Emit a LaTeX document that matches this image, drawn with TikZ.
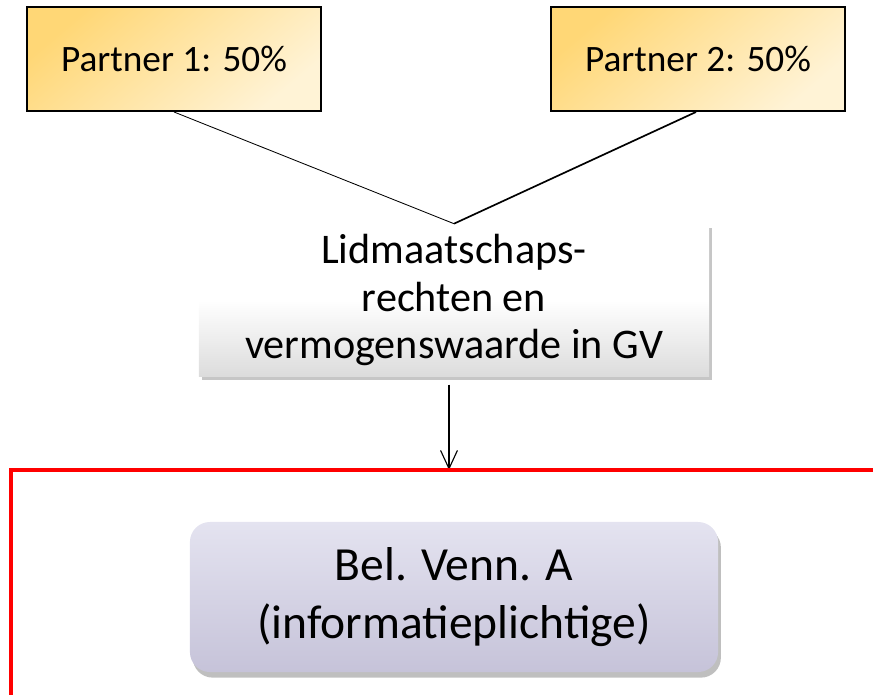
\documentclass[tikz,border=0pt]{standalone}
\usepackage{fontspec}
\setmainfont{Carlito}
\usepackage{tikz}
\usetikzlibrary{shadows,arrows.meta}
\definecolor{partnerdark}{HTML}{FFD776}
\definecolor{partnerlight}{HTML}{FFF3D6}
\definecolor{gvgray}{HTML}{DCDCDC}
\definecolor{bvtop}{HTML}{E4E3F0}
\definecolor{bvbottom}{HTML}{C6C3D9}
\definecolor{framered}{HTML}{FF0000}

\begin{document}
\begin{tikzpicture}[x=0.025cm,y=-0.025cm,
  partnerbox/.style={draw=black,line width=1.4pt,minimum width=7.35cm,minimum height=2.6cm,
    shading=axis,top color=partnerdark,bottom color=partnerlight,shading angle=40,
    font=\fontsize{26.5}{30}\selectfont},
  gvbox/.style={minimum width=12.75cm,minimum height=3.8cm,align=center,
    top color=white,bottom color=gvgray,middle color=white,
    drop shadow={shadow xshift=2pt,shadow yshift=-3pt,opacity=0.45},
    font=\fontsize{30}{34}\selectfont},
  bvbox/.style={rounded corners=0.5cm,minimum width=13.2cm,minimum height=3.75cm,align=center,
    top color=bvtop,bottom color=bvbottom,
    drop shadow={shadow xshift=2pt,shadow yshift=-4pt,opacity=0.5},
    font=\fontsize{33.8}{41}\selectfont},
  link/.style={draw=black}]
\useasboundingbox (0,0) rectangle (873,695);
\draw (174,59) node[partnerbox] (P1) {Partner 1: 50\%};
\draw (698,59) node[partnerbox] (P2) {Partner 2: 50\%};
\draw (454,300) node[gvbox] (GV) {Lidmaatschaps-\\rechten en\\vermogenswaarde in GV};
\draw (454,597) node[bvbox] (BV) {Bel. Venn. A\\(informatieplichtige)};
\coordinate (FrameR) at (873,470);
\coordinate (FrameTL) at (11,470);
\coordinate (FrameBL) at (11,695);

\draw[link,line width=0.6pt] (P1.south) -- (GV.north);
\draw[link,line width=1.2pt] ([xshift=-0.05cm]P2.south) -- (GV.north);
\draw[link,line width=0.8pt,-{Straight Barb[length=13pt,width=12pt]}] ([xshift=-0.125cm,yshift=-6pt]GV.south) -- ([xshift=-0.125cm]GV.south |- FrameTL);
\draw[framered,line width=3.4pt] (FrameR) -- (FrameTL) -- (FrameBL);
\end{tikzpicture}
\end{document}
